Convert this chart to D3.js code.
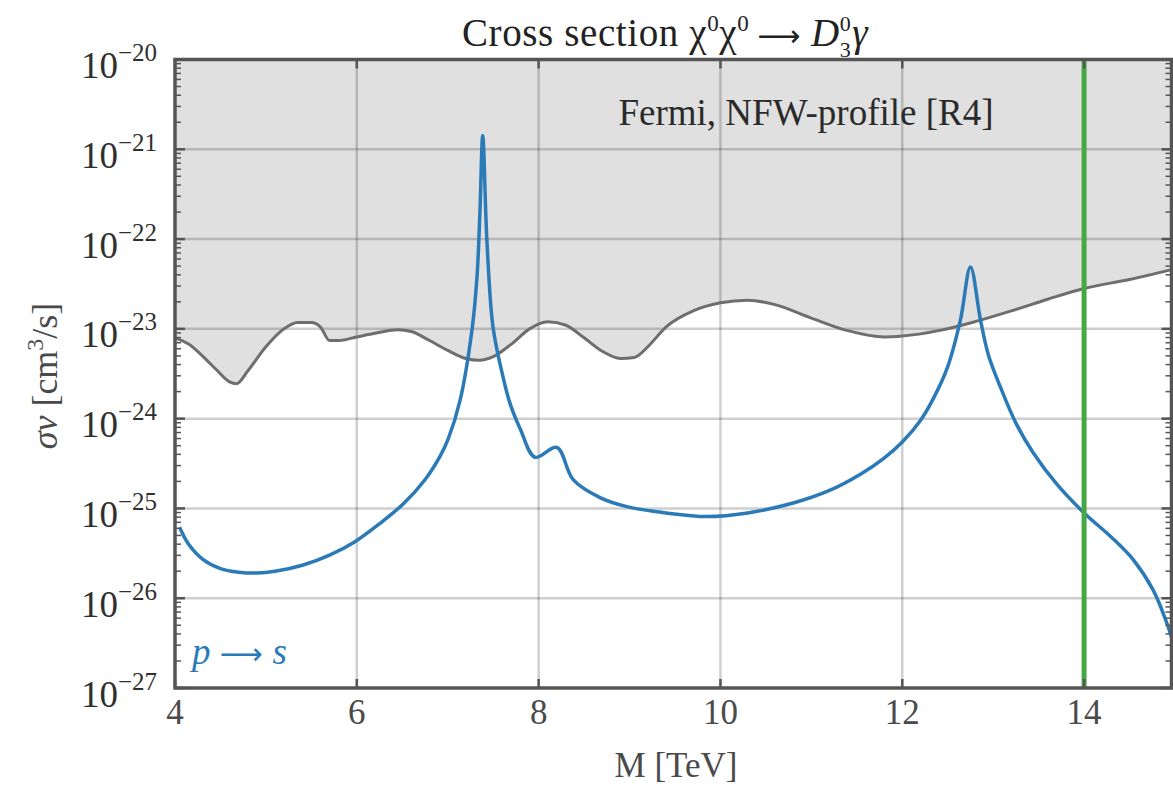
<!DOCTYPE html>
<html>
<head>
<meta charset="utf-8">
<script src="https://cdn.jsdelivr.net/npm/d3@7"></script>
<style>
  html, body { margin: 0; padding: 0; background: #fff; }
  svg { display: block; }
  text { font-family: "Liberation Serif", "DejaVu Serif", serif; }
</style>
</head>
<body>
<svg id="chart" width="1173" height="785"></svg>
<script>
// ---- Data (exponents: value = 10^exp, in cm^3/s) ----
const fermiM   = [4.0, 4.15, 4.3, 4.45, 4.6, 4.68, 4.8, 5.0, 5.2, 5.35, 5.5, 5.6, 5.7, 5.8, 6.0, 6.2, 6.45, 6.6, 6.8, 7.0, 7.2, 7.35, 7.5, 7.7, 7.9, 8.1, 8.3, 8.5, 8.7, 8.9, 9.05, 9.2, 9.4, 9.7, 10.0, 10.3, 10.6, 11.0, 11.4, 11.8, 12.0, 12.4, 12.8, 13.2, 13.6, 14.0, 14.5, 15.0];
const fermiExp = [-23.10, -23.17, -23.30, -23.45, -23.59, -23.61, -23.47, -23.20, -23.00, -22.93, -22.93, -22.98, -23.13, -23.13, -23.09, -23.05, -23.01, -23.03, -23.13, -23.24, -23.33, -23.35, -23.31, -23.17, -23.00, -22.92, -22.96, -23.10, -23.25, -23.33, -23.32, -23.20, -22.98, -22.80, -22.71, -22.68, -22.73, -22.88, -23.02, -23.09, -23.08, -23.02, -22.92, -22.80, -22.67, -22.55, -22.45, -22.33];

const sigmaM   = [4.05, 4.15, 4.31, 4.5, 4.7, 4.9, 5.1, 5.41, 5.7, 5.98, 6.25, 6.51, 6.75, 6.915, 7.0, 7.135, 7.267, 7.322, 7.355, 7.385, 7.432, 7.498, 7.6, 7.685, 7.8, 7.96, 8.20, 8.38, 8.675, 8.97, 9.4, 9.85, 10.3, 10.8, 11.2, 11.54, 11.8, 12.0, 12.2, 12.34, 12.5, 12.64, 12.75, 12.86, 12.95, 13.08, 13.25, 13.44, 13.7, 14.0, 14.3, 14.54, 14.76, 14.9, 14.98];
const sigmaExp = [-25.21, -25.40, -25.57, -25.67, -25.71, -25.72, -25.70, -25.63, -25.52, -25.37, -25.17, -24.95, -24.68, -24.42, -24.24, -23.80, -23.01, -22.42, -21.68, -20.85, -22.04, -22.98, -23.50, -23.83, -24.12, -24.43, -24.32, -24.68, -24.88, -24.98, -25.05, -25.09, -25.05, -24.94, -24.80, -24.62, -24.44, -24.26, -24.02, -23.78, -23.42, -22.90, -22.31, -22.90, -23.30, -23.65, -24.05, -24.38, -24.73, -25.05, -25.32, -25.57, -25.91, -26.25, -26.49];

const xTicks = [4, 6, 8, 10, 12, 14];
const yTickExps = [-20, -21, -22, -23, -24, -25, -26, -27];
const markerM = 14;

// ---- Setup ----
const svg = d3.select("#chart");
const x = d3.scaleLinear().domain([4, 15]).range([175, 1175]);
const y = d3.scaleLog().domain([1e-27, 1e-20]).range([688, 59.5]);
const L = 175, R = 1171.5, T = y(1e-20), B = y(1e-27);

const fermi = fermiM.map((m, i) => ({ m, v: Math.pow(10, fermiExp[i]) }));
const sigma = sigmaM.map((m, i) => ({ m, v: Math.pow(10, sigmaExp[i]) }));

svg.append("defs").append("clipPath").attr("id", "plotclip")
  .append("rect").attr("x", L).attr("y", T).attr("width", R - L).attr("height", B - T);

const plot = svg.append("g").attr("clip-path", "url(#plotclip)");

// shaded excluded region
plot.append("path")
  .datum(fermi)
  .attr("fill", "#e0e0e0")
  .attr("d", d3.area().x(d => x(d.m)).y0(y(1e-20)).y1(d => y(d.v)).curve(d3.curveMonotoneX));

// grid
const grid = plot.append("g").attr("stroke", "#000").attr("stroke-opacity", 0.19).attr("stroke-width", 2.5);
xTicks.filter(t => t > 4).forEach(t => {
  grid.append("line").attr("x1", x(t)).attr("x2", x(t)).attr("y1", T).attr("y2", B);
});
yTickExps.filter(e => e > -27 && e < -20).forEach(e => {
  grid.append("line").attr("x1", L).attr("x2", R).attr("y1", y(Math.pow(10, e))).attr("y2", y(Math.pow(10, e)));
});

// fermi line
plot.append("path")
  .datum(fermi)
  .attr("fill", "none")
  .attr("stroke", "#6e6e6e")
  .attr("stroke-width", 3)
  .attr("d", d3.line().x(d => x(d.m)).y(d => y(d.v)).curve(d3.curveMonotoneX));

// sigma line
plot.append("path")
  .datum(sigma)
  .attr("fill", "none")
  .attr("stroke", "#2a7ab8")
  .attr("stroke-width", 3.5)
  .attr("stroke-linejoin", "round")
  .attr("d", d3.line().x(d => x(d.m)).y(d => y(d.v)).curve(d3.curveCatmullRom.alpha(0.5)));

// green vertical line
plot.append("line")
  .attr("x1", x(markerM)).attr("x2", x(markerM)).attr("y1", T).attr("y2", B)
  .attr("stroke", "#45a845").attr("stroke-width", 5);

// ---- Frame and ticks ----
const ax = svg.append("g").attr("stroke", "#555");
for (let e = -27; e < -20; e++) {
  for (let k = 2; k <= 9; k++) {
    const yy = y(k * Math.pow(10, e));
    ax.append("line").attr("x1", L).attr("x2", L + 6).attr("y1", yy).attr("y2", yy).attr("stroke-width", 1.5);
    ax.append("line").attr("x1", R - 6).attr("x2", R).attr("y1", yy).attr("y2", yy).attr("stroke-width", 1.5);
  }
}
yTickExps.forEach(e => {
  const yy = y(Math.pow(10, e));
  ax.append("line").attr("x1", L).attr("x2", L + 10).attr("y1", yy).attr("y2", yy).attr("stroke-width", 2.5);
  ax.append("line").attr("x1", R - 10).attr("x2", R).attr("y1", yy).attr("y2", yy).attr("stroke-width", 2.5);
});
xTicks.forEach(t => {
  ax.append("line").attr("x1", x(t)).attr("x2", x(t)).attr("y1", B).attr("y2", B - 9).attr("stroke-width", 2.5);
  ax.append("line").attr("x1", x(t)).attr("x2", x(t)).attr("y1", T).attr("y2", T + 9).attr("stroke-width", 2.5);
});
ax.append("rect").attr("x", L).attr("y", T).attr("width", R - L).attr("height", B - T)
  .attr("fill", "none").attr("stroke-width", 3.5);

// ---- Tick labels ----
const ylab = svg.append("g").attr("fill", "#2f2f2f");
yTickExps.forEach(e => {
  const yy = y(Math.pow(10, e));
  const t = ylab.append("text").attr("x", 157).attr("y", yy + 18.5).attr("text-anchor", "end").attr("font-size", 37);
  t.append("tspan").text("10");
  t.append("tspan").attr("dy", -17).attr("font-size", 25).text("\u2212" + Math.abs(e));
});

svg.append("g").selectAll("text").data(xTicks).join("text")
  .attr("x", d => x(d)).attr("y", 724)
  .attr("text-anchor", "middle").attr("font-size", 35).attr("fill", "#4a4a4a")
  .text(d => d);

// axis titles
svg.append("text").attr("x", 676).attr("y", 777).attr("text-anchor", "middle")
  .attr("font-size", 35).attr("fill", "#4a4a4a").text("M [TeV]");

const yt = svg.append("text").attr("transform", "translate(57,376) rotate(-90)")
  .attr("text-anchor", "middle").attr("font-size", 36).attr("fill", "#4a4a4a");
yt.append("tspan").attr("font-style", "italic").text("\u03c3v");
yt.append("tspan").text(" [cm");
yt.append("tspan").attr("dy", -14).attr("font-size", 24).text("3");
yt.append("tspan").attr("dy", 14).text("/s]");

// title
const tt = svg.append("text").attr("x", 462).attr("y", 46)
  .attr("font-size", 39).attr("letter-spacing", 0.6).attr("fill", "#222");
tt.append("tspan").text("Cross section \u03c7");
tt.append("tspan").attr("dy", -15).attr("font-size", 23).text("0");
tt.append("tspan").attr("dy", 15).text("\u03c7");
tt.append("tspan").attr("dy", -15).attr("font-size", 23).text("0");
tt.append("tspan").attr("dy", 15).attr("dx", 8).attr("font-family", "DejaVu Sans").attr("font-size", 30).text("\u27f6");
tt.append("tspan").attr("dx", 10).attr("font-style", "italic").text("D");
tt.append("tspan").attr("dy", -15).attr("font-size", 22).text("0");
tt.append("tspan").attr("dx", 1).attr("dy", 15).attr("font-style", "italic").text("\u03b3");
// subscript 3 under the superscript 0 of D
const idx = ("Cross section \u03c7" + "0" + "\u03c7" + "0" + "\u27f6" + "D").length;
const sx = tt.node().getStartPositionOfChar(idx).x;
svg.append("text").attr("x", sx).attr("y", 57).attr("font-size", 22).attr("fill", "#222").text("3");

// annotation
svg.append("text").attr("x", 806).attr("y", 125).attr("text-anchor", "middle")
  .attr("font-size", 37).attr("fill", "#2a2a2a").text("Fermi, NFW-profile [R4]");

const ps = svg.append("text").attr("x", 192).attr("y", 664).attr("font-size", 37).attr("fill", "#2a7ab8");
ps.append("tspan").attr("font-style", "italic").text("p");
ps.append("tspan").attr("dx", 9).attr("font-family", "DejaVu Sans").attr("font-size", 30).text("\u27f6");
ps.append("tspan").attr("dx", 10).attr("font-style", "italic").text("s");
</script>
</body>
</html>
